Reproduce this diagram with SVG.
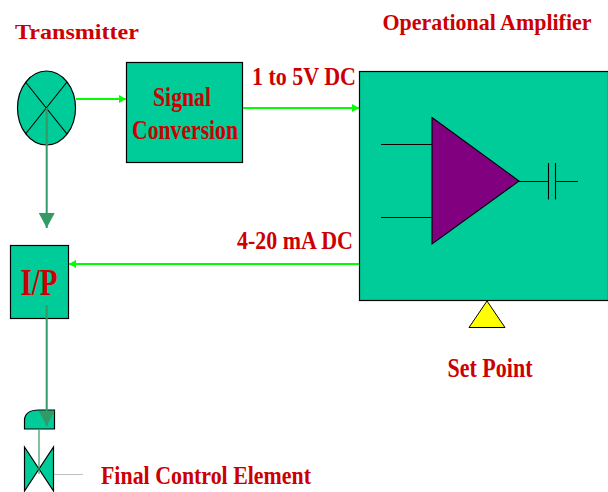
<svg xmlns="http://www.w3.org/2000/svg" width="608" height="492" viewBox="0 0 608 492">
<style>
.f{fill:#00cc99;stroke:#000;stroke-width:1.2}
.l{stroke:#000;stroke-width:1.1;fill:none}
.t{font-family:"Liberation Serif",serif;font-weight:bold;fill:#cc0000;text-anchor:middle}
.g{stroke:#00ff00;stroke-width:2;fill:none}
.d{stroke:#339966;stroke-width:2;fill:none}
</style>
<defs>
<marker id="ag" markerUnits="userSpaceOnUse" markerWidth="8" markerHeight="8" refX="7" refY="4" orient="auto"><path d="M0 0L7 4L0 8Z" fill="#00ff00"/></marker>
<marker id="ad" markerUnits="userSpaceOnUse" markerWidth="16" markerHeight="16" refX="15" refY="8" orient="auto"><path d="M0 0L15 8L0 16Z" fill="#339966"/></marker>
</defs>
<rect width="608" height="492" fill="#fff"/>
<g id="amplifier">
<rect class="f" x="359.500" y="71.500" width="249" height="229"/>
<path class="l" d="M381 144.500H432M381 217.500H432M519 181.500H548M556 181.500H578M548.500 163V199.500M555.500 163V199.500"/>
<path d="M432 117.500L519 181L432 244Z" fill="#800080" stroke="#000" stroke-width="1.1"/>
<text class="t" x="487" y="30" font-size="24" textLength="209" lengthAdjust="spacingAndGlyphs">Operational Amplifier</text>
</g>
<g id="transmitter">
<ellipse class="f" cx="46.500" cy="108" rx="29" ry="37"/>
<path class="l" d="M25.500 82L67 134M67 82L25.500 134"/>
<text class="t" x="77" y="39" font-size="22" textLength="124" lengthAdjust="spacingAndGlyphs">Transmitter</text>
</g>
<g id="signal-conversion">
<rect class="f" x="126.500" y="62.500" width="116" height="100"/>
<text class="t" x="182" y="106" font-size="28" textLength="58" lengthAdjust="spacingAndGlyphs">Signal</text>
<text class="t" x="185" y="139" font-size="28" textLength="106" lengthAdjust="spacingAndGlyphs">Conversion</text>
</g>
<g id="ip">
<rect class="f" x="10.500" y="245.500" width="58" height="73"/>
<text class="t" x="39" y="295" font-size="37" textLength="37" lengthAdjust="spacingAndGlyphs">I/P</text>
</g>
<g id="set-point">
<path d="M487 301L505 327.500H469Z" fill="#ffff00" stroke="#000"/>
<text class="t" x="490" y="377" font-size="27" textLength="85" lengthAdjust="spacingAndGlyphs">Set Point</text>
</g>
<g id="final-control-element">
<path class="f" d="M24.500 429V420Q25 410 39 410H54.500V429Z"/>
<path class="f" d="M24.500 447L53.500 491V447L24.500 491Z"/>
<path d="M54 474.500H83" stroke="#c0c0c0" fill="none"/>
<text class="t" x="206" y="484" font-size="26" textLength="210" lengthAdjust="spacingAndGlyphs">Final Control Element</text>
</g>
<g id="connectors">
<path class="g" marker-end="url(#ag)" d="M76 99H126"/>
<path class="g" marker-end="url(#ag)" d="M243 108H359"/>
<path class="g" marker-end="url(#ag)" d="M359 264H69"/>
<path class="d" marker-end="url(#ad)" d="M46.700 108V228"/>
<path class="d" marker-end="url(#ad)" d="M46.700 305V426"/>
<path d="M39 429V474" stroke="#339966" stroke-width="1.2" fill="none"/>
</g>
<text class="t" x="304" y="85" font-size="26" textLength="104" lengthAdjust="spacingAndGlyphs">1 to 5V DC</text>
<text class="t" x="295" y="249" font-size="25" textLength="116" lengthAdjust="spacingAndGlyphs">4-20 mA DC</text>
</svg>
